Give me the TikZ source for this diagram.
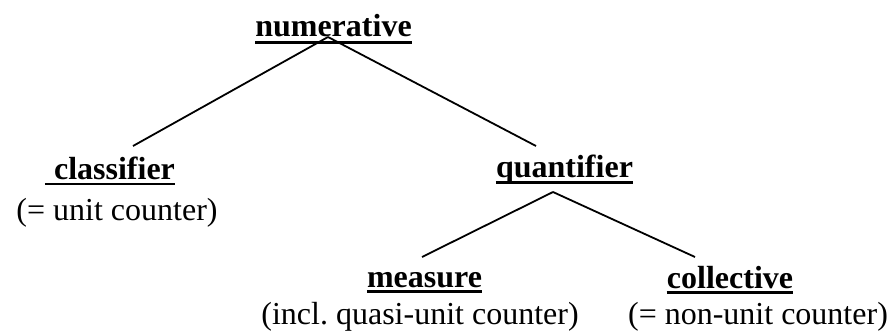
\documentclass[tikz,border=0pt]{standalone}
\usepackage{fontspec}
\setmainfont{Liberation Serif}
\begin{document}
\begin{tikzpicture}[x=1pt,y=1pt,
  lbl/.style={anchor=base,inner sep=0pt,font=\fontsize{32}{38}\selectfont\bfseries},
  sub/.style={anchor=base,inner sep=0pt,font=\fontsize{32}{38}\selectfont},
  uline/.style={line width=2.8pt},
  edge/.style={line width=1.8pt}]
\useasboundingbox (0,0) rectangle (890,330);
% labels (y = 330 - baseline)
\node[lbl] (num) at (333.5,293) {numerative};
\node[lbl] (cls) at (114.5,151) {classifier};
\node[sub] (clss) at (117,110) {(= unit counter)};
\node[lbl] (qnt) at (564.5,152.5) {quantifier};
\node[lbl] (mea) at (424.5,43) {measure};
\node[sub] (meas) at (420,6) {(incl.\ quasi-unit counter)};
\node[lbl] (col) at (730,42) {collective};
\node[sub] (cols) at (758,6) {(= non-unit counter)};
% underlines
\draw[uline] ([yshift=-5.5pt]num.base west) -- ([yshift=-5.5pt]num.base east);
\draw[uline] ([xshift=-9pt,yshift=-5pt]cls.base west) -- ([yshift=-5pt]cls.base east);
\draw[uline] ([yshift=-5pt]qnt.base west) -- ([yshift=-5pt]qnt.base east);
\draw[uline] ([yshift=-4.5pt]mea.base west) -- ([yshift=-4.5pt]mea.base east);
\draw[uline] ([yshift=-4.5pt]col.base west) -- ([yshift=-4.5pt]col.base east);
% connector end points
\coordinate (a1) at (328,293);
\coordinate (c1) at (133,184);
\coordinate (q1) at (536,184);
\coordinate (a2) at (553,138);
\coordinate (m1) at (422,73);
\coordinate (k1) at (695,73);
\draw[edge] (a1) -- (c1);
\draw[edge] (a1) -- (q1);
\draw[edge] (a2) -- (m1);
\draw[edge] (a2) -- (k1);
\end{tikzpicture}
\end{document}
